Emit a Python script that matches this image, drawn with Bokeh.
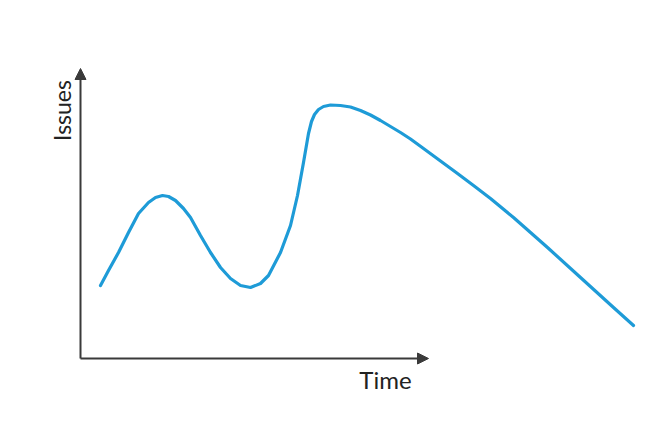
import math
from bokeh.plotting import figure
from bokeh.models import Range1d, Arrow, NormalHead, Label
from bokeh.embed import file_html
from bokeh.resources import INLINE

# Curve (time, issues)
time_vals = [2.0, 2.8, 3.8, 4.8, 5.8, 6.8, 7.5, 8.2, 8.8, 9.5, 10.3, 11.0, 12.0, 13.0, 14.0,
             15.0, 16.0, 17.0, 18.0, 18.8, 20.0, 21.0, 21.7, 22.3, 22.8, 23.1, 23.4, 23.8,
             24.3, 25.0, 26.0, 27.0, 28.0, 29.0, 30.0, 31.0, 32.0, 33.0, 34.3, 36.0, 37.7,
             39.3, 41.0, 43.3, 46.7, 50.0, 53.3, 55.3]
issue_vals = [7.3, 8.8, 10.6, 12.6, 14.5, 15.6, 16.1, 16.3, 16.2, 15.8, 15.0, 14.1, 12.3,
              10.6, 9.1, 8.0, 7.3, 7.1, 7.5, 8.3, 10.6, 13.3, 16.3, 19.6, 22.5, 23.7, 24.4,
              24.9, 25.2, 25.35, 25.3, 25.15, 24.8, 24.35, 23.8, 23.2, 22.6, 21.95, 21.0,
              19.75, 18.5, 17.3, 16.0, 14.1, 11.1, 8.1, 5.1, 3.3]

x_axis_end = 34.8
y_axis_end = 29.0
x_label = "Time"
y_label = "Issues"

p = figure(width=656, height=426, output_backend="svg", toolbar_location=None,
           x_range=Range1d(-8.0, 57.6), y_range=Range1d(-6.8, 35.8),
           min_border=0)
p.axis.visible = False
p.grid.visible = False
p.outline_line_color = None
p.background_fill_color = "white"

p.line(time_vals, issue_vals, line_color="#1E9BD7", line_width=3.2,
       line_cap="round", line_join="round")

axis_color = "#3a3a3a"
p.add_layout(Arrow(end=NormalHead(size=11, fill_color=axis_color, line_color=axis_color),
                   x_start=0, y_start=0, x_end=0, y_end=y_axis_end,
                   line_color=axis_color, line_width=2))
p.add_layout(Arrow(end=NormalHead(size=11, fill_color=axis_color, line_color=axis_color),
                   x_start=0, y_start=0, x_end=x_axis_end, y_end=0,
                   line_color=axis_color, line_width=2))

p.add_layout(Label(x=-1.9, y=24.8, text=y_label, angle=math.pi / 2,
                   text_align="center", text_baseline="middle",
                   text_font="Lato", text_font_size="23px", text_color="#222222"))
p.add_layout(Label(x=30.5, y=-2.1, text=x_label,
                   text_align="center", text_baseline="middle",
                   text_font="Lato", text_font_size="24px", text_color="#222222"))

open("out.html", "w").write(file_html(p, INLINE))
